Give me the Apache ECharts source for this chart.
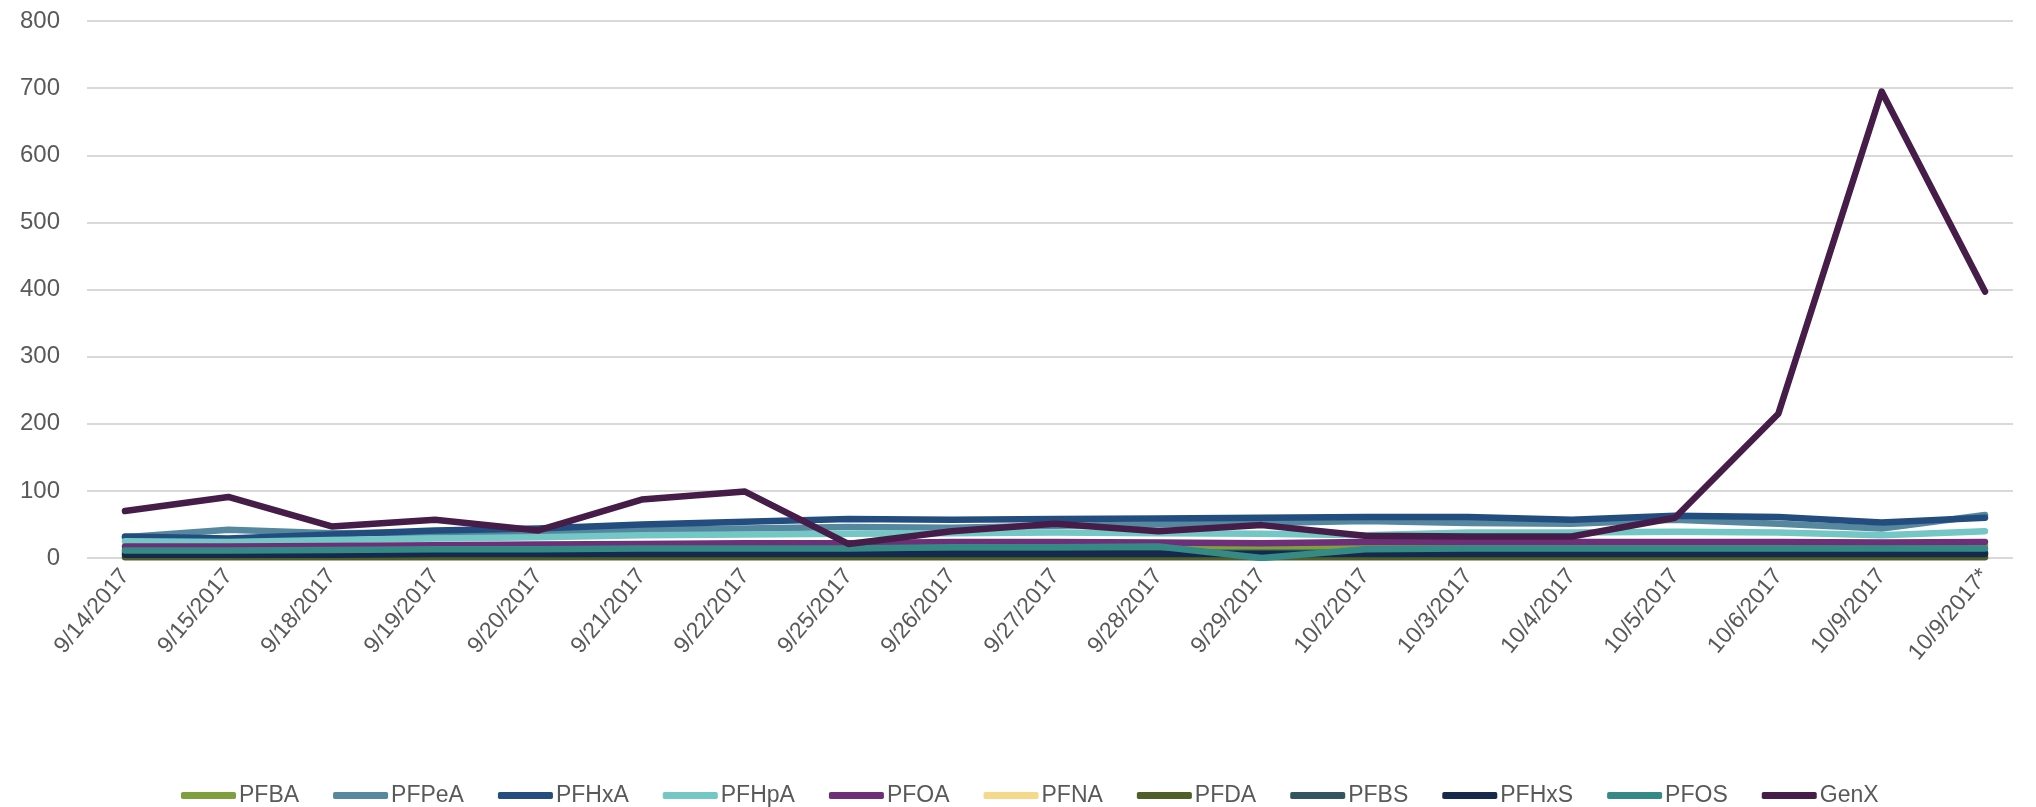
<!DOCTYPE html>
<html>
<head>
<meta charset="utf-8">
<script src="https://cdn.jsdelivr.net/npm/echarts@6/dist/echarts.min.js"></script>
<style>
html,body{margin:0;padding:0;background:#fff;}
#chart{width:2036px;height:807px;}
</style>
</head>
<body>
<div id="chart"></div>
<script>
const categories = ['9/14/2017','9/15/2017','9/18/2017','9/19/2017','9/20/2017','9/21/2017','9/22/2017','9/25/2017','9/26/2017','9/27/2017','9/28/2017','9/29/2017','10/2/2017','10/3/2017','10/4/2017','10/5/2017','10/6/2017','10/9/2017','10/9/2017*'];
const yTicks = [0,100,200,300,400,500,600,700,800];

const PFBA  = [12,12,13,13,13,13,13,14,14,14,14,14,17,18,18,18,18,18,19];
const PFPeA = [31,42,37,38,38,42,44,46,45,48,50,52,55,52,51,57,51,44,64];
const PFHxA = [32,29,35,41,44,50,54,58,57,58,59,60,61,61,57,63,61,53,60];
const PFHpA = [25,24,27,29,31,34,35,36,37,38,37,36,34,38,38,39,38,34,40];
const PFOA  = [17,17,18,19,20,21,22,22,24,24,23,22,24,24,24,24,24,23,24];
const PFNA  = [4,4,4,4,4,4,4,4,4,4,4,4,4,4,4,4,4,4,4];
const PFDA  = [1,1,1,1,1,1,1,1,1,1,1,1,1,1,1,1,1,1,1];
const PFBS  = [8,8,8,8,8,8,8,8,8,8,8,8,8,8,8,8,8,8,8];
const PFHxS = [5,5,5,6,6,6,6,6,6,6,6,6,6,6,6,6,6,6,6];
const PFOS  = [11,11,12,13,13,14,14,14,16,16,17,0,13,14,14,14,14,14,14];
const GenX  = [70,91,47,57,41,87,99,21,40,51,40,49,33,32,32,60,215,695,397];

const seriesNames = ['PFBA','PFPeA','PFHxA','PFHpA','PFOA','PFNA','PFDA','PFBS','PFHxS','PFOS','GenX'];
const seriesData = [PFBA,PFPeA,PFHxA,PFHpA,PFOA,PFNA,PFDA,PFBS,PFHxS,PFOS,GenX];
const colors = ['#80A03E','#55879F','#234D7E','#73C7C4','#6D2F77','#F5D98A','#4F5F28','#345460','#14294B','#358A86','#461C48'];

const textColor = '#595959';
const font = 'Liberation Sans, Arial, sans-serif';

const chart = echarts.init(document.getElementById('chart'), null, {renderer:'canvas'});
chart.setOption({
  animation:false,
  backgroundColor:'#ffffff',
  color: colors,
  grid:[
    {left:87, right:23, top:21, bottom:249, containLabel:false, outerBoundsMode:'none'},
    {left:125, right:51, top:21, bottom:249, containLabel:false, outerBoundsMode:'none'}
  ],
  xAxis:[
    {gridIndex:0, type:'value', min:0, max:1, show:false},
    {gridIndex:1, type:'category', data:categories, boundaryGap:false,
     axisLine:{show:false}, axisTick:{show:false},
     axisLabel:{rotate:50, color:textColor, fontSize:23, fontFamily:font, margin:14, interval:0}}
  ],
  yAxis:[
    {gridIndex:0, type:'value', min:yTicks[0], max:yTicks[yTicks.length-1], interval:100,
     axisLine:{show:false}, axisTick:{show:false},
     axisLabel:{color:textColor, fontSize:24, fontFamily:font, margin:27},
     splitLine:{lineStyle:{color:'#D9D9D9', width:2}}},
    {gridIndex:1, type:'value', min:yTicks[0], max:yTicks[yTicks.length-1], interval:100, show:false}
  ],
  legend:{
    data: seriesNames,
    left:176, top:779,
    icon:'roundRect', itemWidth:55, itemHeight:7, itemGap:34,
    textStyle:{color:textColor, fontSize:23, fontFamily:font, padding:[0,0,0,-2]}
  },
  series: seriesNames.map((n,i)=>({
    name:n, type:'line', xAxisIndex:1, yAxisIndex:1,
    data: seriesData[i], showSymbol:false, symbol:'none',
    lineStyle:{width:6.5, color:colors[i], cap:'round', join:'round'},
    itemStyle:{color:colors[i]}
  }))
});
</script>
</body>
</html>
